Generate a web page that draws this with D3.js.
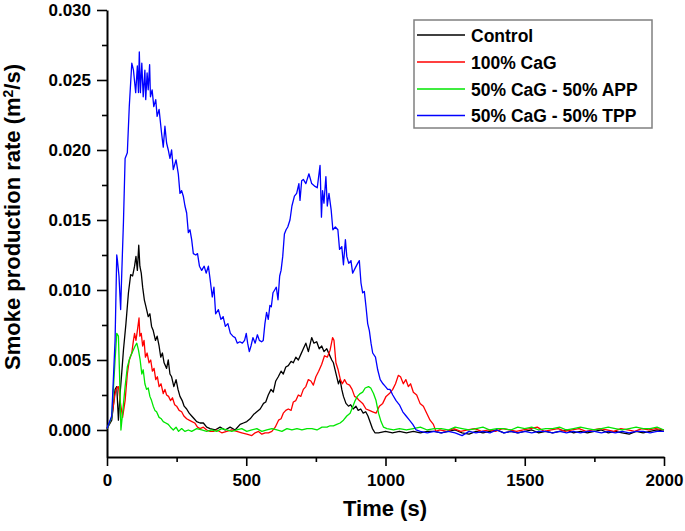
<!DOCTYPE html>
<html>
<head>
<meta charset="utf-8">
<script src="https://cdn.jsdelivr.net/npm/d3@7"></script>
<style>
  html, body { margin: 0; padding: 0; background: #fff; }
  svg { display: block; }
  text { font-family: "Liberation Sans", Arial, sans-serif; font-weight: bold; fill: #000; }
</style>
</head>
<body>
<svg id="chart" width="685" height="531"></svg>
<script>
// ---------------- DATA ----------------
const seriesNames = ["Control", "100% CaG", "50% CaG - 50% APP", "50% CaG - 50% TPP"];
const seriesColors = ["#000000", "#ff0000", "#00e600", "#0000ff"];

const xTickValues = [0, 500, 1000, 1500, 2000];
const yTickValues = [0.000, 0.005, 0.010, 0.015, 0.020, 0.025, 0.030];

// [time (s), smoke production rate (m²/s)]
const controlData = [[0,0.0001],[17,0.0007],[29,0.0029],[35,0.0031],[41,0.0007],[47,0.0026],[53,0.0041],[59,0.0057],[68,0.0076],[77,0.0098],[85,0.0111],[92,0.0110],[99,0.0117],[104,0.0124],[109,0.0114],[114,0.0132],[118,0.0117],[123,0.0112],[128,0.0102],[134,0.0093],[140,0.0088],[148,0.0081],[154,0.0083],[160,0.0074],[166,0.0071],[174,0.0064],[180,0.0067],[187,0.0060],[193,0.0052],[199,0.0055],[205,0.0048],[214,0.0044],[220,0.0050],[226,0.0040],[232,0.0038],[240,0.0031],[248,0.0036],[255,0.0029],[262,0.0024],[270,0.0021],[277,0.0017],[286,0.0015],[295,0.0012],[304,0.0010],[313,0.0008],[322,0.0006],[334,0.0005],[346,0.0005],[358,0.0002],[370,0.0001],[388,0.0000],[406,0.0002],[424,0.0000],[442,0.0002],[460,0.0000],[478,0.0004],[490,0.0005],[502,0.0006],[514,0.0008],[526,0.0011],[538,0.0013],[550,0.0015],[562,0.0019],[570,0.0020],[579,0.0025],[589,0.0029],[597,0.0027],[606,0.0035],[615,0.0038],[625,0.0042],[633,0.0040],[642,0.0045],[651,0.0046],[661,0.0049],[669,0.0048],[678,0.0052],[687,0.0050],[696,0.0054],[705,0.0058],[714,0.0062],[723,0.0056],[735,0.0066],[743,0.0062],[753,0.0063],[762,0.0058],[771,0.0060],[779,0.0056],[789,0.0058],[798,0.0054],[807,0.0050],[813,0.0048],[819,0.0043],[825,0.0038],[831,0.0033],[837,0.0036],[843,0.0029],[849,0.0024],[858,0.0019],[867,0.0017],[875,0.0018],[884,0.0015],[894,0.0017],[902,0.0014],[911,0.0015],[920,0.0012],[929,0.0013],[937,0.0010],[946,0.0005],[953,0.0001],[962,-0.0002],[975,-0.0002],[1000,-0.0001],[1025,-0.0002],[1050,-0.0001],[1075,-0.0002],[1100,-0.0001],[1125,-0.0002],[1150,-0.0001],[1175,-0.0001],[1200,-0.0002],[1225,-0.0001],[1250,0.0000],[1275,-0.0002],[1300,-0.0003],[1325,-0.0001],[1350,-0.0002],[1375,-0.0001],[1400,0.0000],[1425,-0.0002],[1450,-0.0001],[1475,-0.0002],[1500,-0.0001],[1525,0.0000],[1550,-0.0002],[1575,-0.0001],[1600,-0.0002],[1625,-0.0001],[1650,0.0000],[1675,-0.0002],[1700,-0.0001],[1725,-0.0002],[1750,-0.0001],[1775,0.0000],[1800,-0.0002],[1825,-0.0001],[1850,-0.0002],[1875,-0.0003],[1900,-0.0001],[1925,-0.0002],[1950,-0.0001],[1975,0.0000],[2000,-0.0001]];

const cagData = [[0,0.0001],[17,0.0009],[29,0.0026],[35,0.0030],[41,0.0031],[47,0.0021],[56,0.0009],[65,0.0021],[73,0.0040],[80,0.0050],[89,0.0055],[95,0.0064],[99,0.0069],[104,0.0064],[109,0.0071],[115,0.0080],[118,0.0067],[123,0.0069],[128,0.0060],[133,0.0064],[138,0.0052],[144,0.0055],[151,0.0048],[157,0.0050],[163,0.0042],[169,0.0044],[175,0.0036],[181,0.0038],[187,0.0031],[194,0.0033],[202,0.0026],[208,0.0029],[214,0.0025],[221,0.0024],[228,0.0021],[235,0.0023],[243,0.0018],[250,0.0017],[259,0.0014],[268,0.0013],[276,0.0010],[286,0.0008],[295,0.0007],[305,0.0006],[315,0.0005],[325,0.0002],[334,0.0001],[346,0.0002],[358,0.0000],[370,-0.0001],[382,-0.0001],[394,0.0000],[412,-0.0002],[430,-0.0001],[448,0.0000],[466,-0.0001],[484,-0.0002],[502,-0.0003],[520,-0.0004],[532,-0.0002],[544,-0.0001],[556,-0.0003],[568,-0.0002],[580,-0.0002],[592,-0.0001],[604,0.0002],[616,0.0007],[625,0.0008],[633,0.0012],[642,0.0014],[651,0.0015],[661,0.0014],[669,0.0020],[678,0.0021],[687,0.0025],[696,0.0024],[705,0.0029],[714,0.0031],[723,0.0036],[732,0.0035],[741,0.0032],[750,0.0038],[760,0.0042],[771,0.0047],[781,0.0053],[791,0.0052],[801,0.0057],[810,0.0066],[815,0.0064],[822,0.0048],[830,0.0043],[838,0.0036],[845,0.0033],[853,0.0036],[861,0.0033],[871,0.0032],[880,0.0029],[889,0.0024],[897,0.0023],[906,0.0021],[918,0.0019],[930,0.0015],[942,0.0014],[954,0.0013],[966,0.0012],[978,0.0017],[990,0.0019],[1002,0.0024],[1014,0.0026],[1026,0.0029],[1036,0.0033],[1046,0.0039],[1054,0.0038],[1064,0.0033],[1073,0.0036],[1082,0.0031],[1090,0.0033],[1100,0.0027],[1112,0.0025],[1124,0.0019],[1136,0.0017],[1148,0.0012],[1160,0.0007],[1172,0.0004],[1181,-0.0001],[1195,0.0000],[1220,-0.0001],[1245,0.0001],[1270,-0.0001],[1295,0.0000],[1320,0.0001],[1345,-0.0001],[1370,0.0000],[1395,-0.0001],[1420,0.0001],[1445,0.0000],[1470,-0.0001],[1495,0.0000],[1520,0.0001],[1545,0.0002],[1570,-0.0001],[1595,0.0000],[1620,0.0001],[1645,-0.0001],[1670,0.0000],[1695,0.0001],[1720,-0.0001],[1745,0.0000],[1770,0.0001],[1795,0.0000],[1820,-0.0001],[1845,0.0001],[1870,0.0000],[1895,-0.0001],[1920,0.0001],[1945,0.0000],[1970,0.0001],[2000,0.0000]];

const appData = [[0,0.0001],[17,0.0009],[29,0.0050],[35,0.0069],[41,0.0067],[45,0.0040],[50,0.0000],[56,0.0012],[65,0.0031],[73,0.0045],[83,0.0052],[92,0.0056],[101,0.0060],[107,0.0062],[113,0.0057],[119,0.0050],[125,0.0040],[130,0.0043],[136,0.0033],[142,0.0029],[148,0.0030],[154,0.0024],[160,0.0021],[166,0.0017],[172,0.0014],[178,0.0013],[187,0.0009],[195,0.0008],[202,0.0006],[211,0.0005],[220,0.0004],[228,0.0002],[238,0.0000],[248,0.0002],[257,-0.0001],[268,0.0001],[280,-0.0001],[292,0.0000],[304,-0.0001],[322,0.0001],[340,0.0000],[358,-0.0001],[376,0.0000],[394,-0.0001],[412,0.0001],[430,0.0000],[448,-0.0001],[466,0.0000],[484,0.0001],[502,-0.0001],[520,0.0000],[538,0.0001],[556,-0.0001],[574,0.0000],[592,0.0001],[610,0.0000],[628,-0.0001],[646,0.0001],[664,0.0000],[682,0.0001],[700,0.0000],[718,0.0001],[736,0.0001],[754,0.0000],[772,0.0002],[790,0.0002],[801,0.0003],[813,0.0003],[825,0.0004],[837,0.0005],[849,0.0007],[861,0.0010],[873,0.0012],[883,0.0017],[891,0.0021],[899,0.0024],[909,0.0026],[918,0.0027],[927,0.0030],[939,0.0031],[947,0.0030],[957,0.0026],[966,0.0021],[975,0.0012],[984,0.0006],[993,0.0002],[1005,0.0001],[1029,0.0000],[1050,0.0001],[1075,0.0000],[1100,0.0001],[1125,0.0002],[1150,0.0000],[1175,0.0001],[1200,0.0001],[1225,0.0000],[1250,0.0002],[1275,0.0001],[1300,0.0000],[1325,0.0001],[1350,0.0002],[1375,0.0000],[1400,0.0001],[1425,0.0001],[1450,0.0000],[1475,0.0002],[1500,0.0001],[1525,0.0002],[1550,0.0000],[1575,0.0001],[1600,0.0001],[1625,0.0002],[1650,0.0000],[1675,0.0001],[1700,0.0002],[1725,0.0001],[1750,0.0000],[1775,0.0001],[1800,0.0002],[1825,0.0001],[1850,0.0000],[1875,0.0001],[1900,0.0002],[1925,0.0001],[1950,0.0001],[1975,0.0002],[2000,0.0000]];

const tppData = [[0,0.0001],[17,0.0010],[29,0.0064],[35,0.0125],[37,0.0122],[43,0.0110],[49,0.0086],[53,0.0112],[59,0.0148],[65,0.0194],[73,0.0198],[80,0.0231],[89,0.0262],[95,0.0257],[103,0.0241],[109,0.0260],[113,0.0241],[116,0.0270],[120,0.0241],[125,0.0262],[130,0.0238],[136,0.0257],[139,0.0236],[144,0.0255],[148,0.0243],[153,0.0261],[156,0.0238],[162,0.0243],[168,0.0231],[175,0.0236],[180,0.0224],[187,0.0229],[196,0.0212],[202,0.0202],[208,0.0217],[214,0.0205],[220,0.0200],[226,0.0194],[232,0.0200],[238,0.0186],[248,0.0193],[256,0.0183],[262,0.0169],[268,0.0171],[274,0.0167],[280,0.0160],[286,0.0155],[292,0.0141],[298,0.0143],[304,0.0136],[310,0.0126],[319,0.0125],[325,0.0126],[332,0.0117],[340,0.0114],[349,0.0117],[356,0.0112],[364,0.0117],[370,0.0108],[378,0.0095],[384,0.0102],[390,0.0083],[400,0.0086],[409,0.0079],[417,0.0081],[425,0.0074],[434,0.0076],[443,0.0069],[452,0.0067],[460,0.0066],[468,0.0062],[477,0.0063],[486,0.0062],[494,0.0064],[500,0.0069],[505,0.0062],[511,0.0056],[517,0.0060],[524,0.0066],[532,0.0062],[540,0.0068],[547,0.0064],[555,0.0063],[561,0.0064],[567,0.0076],[573,0.0084],[579,0.0079],[585,0.0089],[590,0.0088],[596,0.0098],[602,0.0100],[608,0.0102],[614,0.0093],[620,0.0110],[625,0.0114],[631,0.0124],[637,0.0140],[643,0.0143],[649,0.0145],[657,0.0150],[664,0.0160],[673,0.0167],[681,0.0169],[689,0.0176],[693,0.0164],[699,0.0178],[705,0.0179],[714,0.0176],[725,0.0183],[735,0.0176],[747,0.0174],[755,0.0173],[765,0.0189],[770,0.0152],[774,0.0171],[779,0.0162],[786,0.0181],[791,0.0160],[797,0.0169],[805,0.0157],[811,0.0143],[820,0.0145],[829,0.0143],[835,0.0129],[843,0.0131],[849,0.0118],[856,0.0136],[861,0.0124],[868,0.0119],[876,0.0121],[882,0.0112],[892,0.0116],[900,0.0119],[906,0.0121],[912,0.0105],[918,0.0098],[924,0.0099],[930,0.0088],[936,0.0076],[942,0.0071],[948,0.0062],[954,0.0055],[964,0.0052],[972,0.0043],[981,0.0036],[991,0.0033],[1000,0.0031],[1008,0.0029],[1016,0.0029],[1026,0.0025],[1038,0.0021],[1050,0.0018],[1062,0.0013],[1074,0.0010],[1086,0.0007],[1098,0.0004],[1110,0.0000],[1125,-0.0001],[1150,-0.0002],[1175,-0.0001],[1200,-0.0002],[1225,-0.0001],[1250,-0.0002],[1275,-0.0004],[1300,-0.0001],[1325,-0.0002],[1350,-0.0001],[1375,-0.0002],[1400,0.0000],[1425,-0.0002],[1450,-0.0001],[1475,-0.0002],[1500,-0.0001],[1525,-0.0002],[1550,-0.0001],[1575,-0.0001],[1600,-0.0002],[1625,-0.0001],[1650,-0.0002],[1675,-0.0001],[1700,-0.0002],[1725,-0.0001],[1750,-0.0001],[1775,-0.0002],[1800,-0.0001],[1825,-0.0002],[1850,-0.0001],[1875,-0.0002],[1900,-0.0001],[1925,-0.0001],[1950,-0.0002],[1975,-0.0001],[2000,-0.0001]];

const allSeries = [controlData, cagData, appData, tppData];

// ---------------- CHART ----------------
const svg = d3.select("#chart");
const x = d3.scaleLinear().domain([0, 2000]).range([107, 664]);
const y = d3.scaleLinear().domain([-0.00193, 0.030]).range([457, 10]);

// Axes
const xMinor = d3.range(250, 2000, 500);
const yMinor = d3.range(0.0025, 0.030, 0.005);

const xAxisG = svg.append("g").attr("transform", "translate(0,457)");
xAxisG.call(d3.axisBottom(x).tickValues(xTickValues).tickFormat(d3.format("d")).tickSize(9).tickSizeOuter(0).tickPadding(8));
xAxisG.append("g").call(d3.axisBottom(x).tickValues(xMinor).tickFormat("").tickSize(5).tickSizeOuter(0))
  .select(".domain").remove();

const yAxisG = svg.append("g").attr("transform", "translate(107,0)");
yAxisG.call(d3.axisLeft(y).tickValues(yTickValues).tickFormat(d3.format(".3f")).tickSize(10).tickSizeOuter(0).tickPadding(6));
yAxisG.append("g").call(d3.axisLeft(y).tickValues(yMinor).tickFormat("").tickSize(5).tickSizeOuter(0))
  .select(".domain").remove();

svg.selectAll(".domain").attr("stroke", "#000").attr("stroke-width", 2);
svg.selectAll(".tick line").attr("stroke", "#000").attr("stroke-width", 1.6);
svg.selectAll(".tick text").style("font-size", "17px").style("font-family", "'Liberation Sans', Arial, sans-serif").style("font-weight", "bold").attr("fill", "#000");

// Lines
const line = d3.line().x(d => x(d[0])).y(d => y(d[1]));
allSeries.forEach((data, i) => {
  svg.append("path")
    .datum(data)
    .attr("fill", "none")
    .attr("stroke", seriesColors[i])
    .attr("stroke-width", 1.3)
    .attr("stroke-linejoin", "round")
    .attr("d", line);
});

// Axis titles
svg.append("text")
  .attr("x", 385).attr("y", 516)
  .attr("text-anchor", "middle")
  .style("font-size", "22px")
  .text("Time (s)");

const yt = svg.append("text")
  .attr("transform", "translate(20,217) rotate(-90)")
  .attr("text-anchor", "middle")
  .style("font-size", "22px");
yt.append("tspan").text("Smoke production rate (m");
yt.append("tspan").attr("dy", -7).style("font-size", "14px").text("2");
yt.append("tspan").attr("dy", 7).text("/s)");

// Legend
const lg = svg.append("g");
lg.append("rect")
  .attr("x", 414).attr("y", 20).attr("width", 238).attr("height", 108)
  .attr("fill", "#fff").attr("stroke", "#808080").attr("stroke-width", 1.5);
const rowY = [35, 62, 89, 115.5];
seriesNames.forEach((name, i) => {
  lg.append("line")
    .attr("x1", 417).attr("x2", 465)
    .attr("y1", rowY[i]).attr("y2", rowY[i])
    .attr("stroke", seriesColors[i]).attr("stroke-width", 1.3);
  lg.append("text")
    .attr("x", 471).attr("y", rowY[i] + 6.5)
    .style("font-size", "17.5px")
    .text(name);
});
</script>
</body>
</html>
